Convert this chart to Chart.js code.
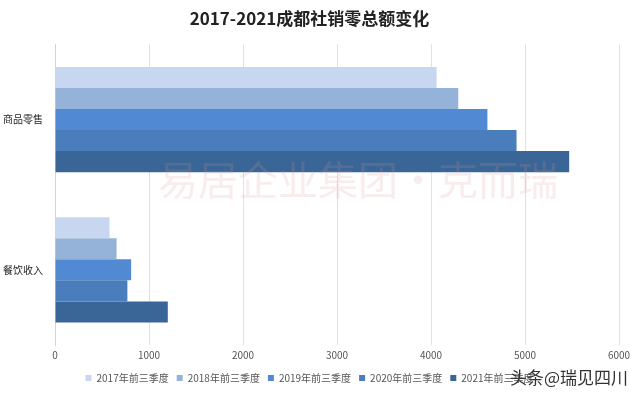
<!DOCTYPE html>
<html lang="zh-CN">
  <head>
    <meta charset="UTF-8" />
    <title>2017-2021成都社销零总额变化</title>
    <script src="https://cdn.jsdelivr.net/npm/chart.js"></script>
    <style>
      html, body { margin: 0; padding: 0; background: #fff; }
      .wrap { width: 640px; height: 393px; position: relative; }
    </style>
  </head>
  <body>
    <div class="wrap">
      <canvas id="retailChart"></canvas>
    </div>

    <script>
      // 数据
      const categories = ["商品零售", "餐饮收入"];
      const seriesNames = [
        "2017年前三季度",
        "2018年前三季度",
        "2019年前三季度",
        "2020年前三季度",
        "2021年前三季度",
      ];
      const values2017 = [4060, 580];
      const values2018 = [4290, 655];
      const values2019 = [4600, 810];
      const values2020 = [4910, 770];
      const values2021 = [5470, 1200];
      const xTicks = [0, 1000, 2000, 3000, 4000, 5000, 6000];

      const seriesValues = [values2017, values2018, values2019, values2020, values2021];
      const colors = ["#c6d7ef", "#95b3d9", "#518ad2", "#4a7dbc", "#3a6597"];

      const font = "'Noto Sans CJK SC', 'DejaVu Sans', sans-serif";

      // 水印
      const watermark = {
        id: "watermark",
        afterDatasetsDraw(chart) {
          const ctx = chart.ctx;
          ctx.save();
          ctx.font = "40px " + font;
          ctx.fillStyle = "rgba(215, 150, 150, 0.18)";
          ctx.textBaseline = "middle";
          ctx.fillText("易居企业集团·克而瑞", 158, 180);
          ctx.font = "17px " + font;
          ctx.fillStyle = "#333";
          ctx.textAlign = "right";
          ctx.fillText("头条@瑞见四川", 628, 378);
          ctx.restore();
        },
      };

      new Chart(document.getElementById("retailChart").getContext("2d"), {
        type: "bar",
        data: {
          labels: categories,
          datasets: seriesNames.map((name, i) => ({
            label: name,
            data: seriesValues[i],
            backgroundColor: colors[i],
            borderWidth: 0,
            categoryPercentage: 0.7,
            barPercentage: 1.0,
          })),
        },
        options: {
          indexAxis: "y",
          responsive: true,
          maintainAspectRatio: false,
          animation: false,
          layout: { padding: { left: 0, right: 21, top: 4, bottom: 0 } },
          plugins: {
            title: {
              display: true,
              text: "2017-2021成都社销零总额变化",
              color: "#222",
              font: { family: font, size: 17, weight: "bold" },
              padding: { top: 4, bottom: 16 },
            },
            legend: {
              position: "bottom",
              labels: {
                boxWidth: 6,
                boxHeight: 6,
                color: "#555",
                font: { family: font, size: 10 },
                padding: 8,
              },
            },
            tooltip: { enabled: false },
          },
          scales: {
            x: {
              min: 0,
              max: 6000,
              afterBuildTicks(axis) {
                axis.ticks = xTicks.map((v) => ({ value: v }));
              },
              grid: { color: "#e2e2e2", drawTicks: false },
              border: { display: false },
              ticks: {
                color: "#555",
                font: { family: font, size: 10 },
                padding: 4,
                callback: (v) => String(v),
              },
            },
            y: {
              afterFit(axis) {
                axis.width = 55;
              },
              grid: { display: false },
              border: { color: "#d4d4d4" },
              ticks: {
                color: "#222",
                font: { family: font, size: 10 },
                padding: 4,
              },
            },
          },
        },
        plugins: [watermark],
      });
    </script>
  </body>
</html>
